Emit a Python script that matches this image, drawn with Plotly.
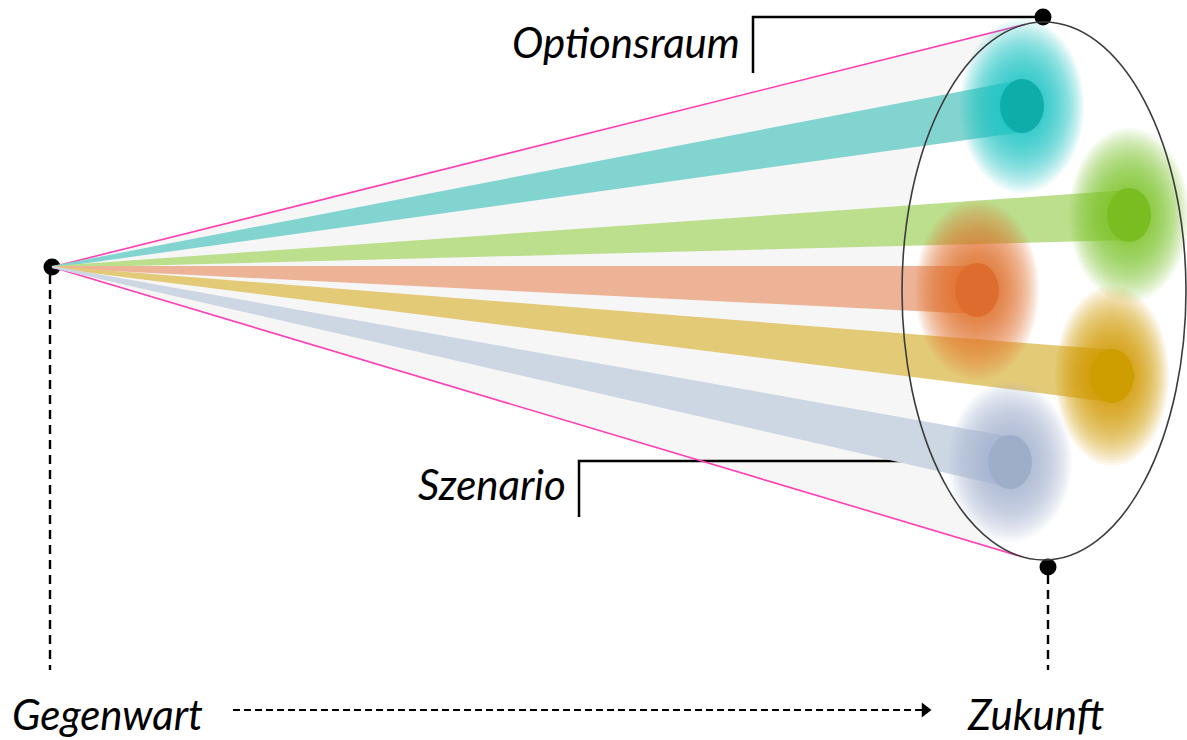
import numpy as np
import plotly.graph_objects as go

W, H = 1187, 740

# ---- geometry / data ----
origin = [52, 267]
ellipse_center = [1044, 291]
ellipse_radii = [142, 269]
top_dot = [1043, 17]
bottom_dot = [1048, 567]

scenario_names = ["Teal", "Grün", "Orange", "Gold", "Blau"]
end_x = [1022, 1129, 977, 1112, 1010]
end_y = [106, 215, 290, 376, 462]
beam_width = [52, 50, 48, 52, 50]
core_colors = ["#0fada9", "#79bd21", "#df6c2f", "#ce9d00", "#9eaec9"]
glow_colors = ["#1cc0c4", "#7cc424", "#e8702e", "#d4a200", "#a3b6d6"]
beam_colors = ["#82d4d0", "#bcdf8e", "#edb396", "#e3ca77", "#cdd7e3"]
glow_rx = [62, 60, 62, 57, 62]
glow_ry = [87, 87, 90, 90, 80]
core_rx = [22, 22, 22, 22, 22]
core_ry = [27, 27, 27, 27, 27]

label_option = "Optionsraum"
label_scenario = "Szenario"
label_now = "Gegenwart"
label_future = "Zukunft"

FONT = "Lato"
FS = 42


def hex_rgba(h, a):
    h = h.lstrip("#")
    r, g, b = int(h[0:2], 16), int(h[2:4], 16), int(h[4:6], 16)
    return f"rgba({r},{g},{b},{a})"


fig = go.Figure()
shapes = []

# ---- cone fill (origin to ellipse left arc) ----
cx, cy = ellipse_center
rx, ry = ellipse_radii
t = np.linspace(0, 2 * np.pi, 4000, endpoint=False)
ex = cx + rx * np.cos(t)
ey = cy + ry * np.sin(t)
nx = np.cos(t) / rx
ny = np.sin(t) / ry
val = (ex - origin[0]) * nx + (ey - origin[1]) * ny
sign_change = np.where(np.sign(val) != np.sign(np.roll(val, -1)))[0]
tang = sorted([(ey[i], ex[i], t[i]) for i in sign_change])
t_top = tang[0][2]
t_bot = tang[-1][2]
if t_bot > t_top:
    arc_t = np.linspace(t_top, t_bot, 200)
    if np.cos((t_top + t_bot) / 2) > 0:
        arc_t = np.linspace(t_top, t_bot - 2 * np.pi, 200)
else:
    arc_t = np.linspace(t_top, t_bot, 200)
    if np.cos((t_top + t_bot) / 2) > 0:
        arc_t = np.linspace(t_top, t_bot + 2 * np.pi, 200)
arc_x = cx + rx * np.cos(arc_t)
arc_y = cy + ry * np.sin(arc_t)
path = f"M {origin[0]},{origin[1]} " + " ".join(
    f"L {x:.1f},{y:.1f}" for x, y in zip(arc_x, arc_y)) + " Z"
shapes.append(dict(type="path", path=path, xref="x", yref="y",
                   fillcolor="rgba(0,0,0,0.035)", line=dict(width=0), layer="below"))

# pink boundary lines
for x2, y2 in [(arc_x[0], arc_y[0]), (arc_x[-1], arc_y[-1])]:
    shapes.append(dict(type="line", x0=origin[0], y0=origin[1], x1=x2, y1=y2,
                       xref="x", yref="y", line=dict(color="#ff3fb4", width=1.6)))

# ---- beams ----
for i in range(len(scenario_names)):
    dx = end_x[i] - origin[0]
    dy = end_y[i] - origin[1]
    L = np.hypot(dx, dy)
    px, py = -dy / L, dx / L
    w0, w1 = 2.0, beam_width[i] / 2
    pts = [(origin[0] + px * w0 / 2, origin[1] + py * w0 / 2),
           (end_x[i] + px * w1, end_y[i] + py * w1),
           (end_x[i] - px * w1, end_y[i] - py * w1),
           (origin[0] - px * w0 / 2, origin[1] - py * w0 / 2)]
    p = "M " + " L ".join(f"{a:.1f},{b:.1f}" for a, b in pts) + " Z"
    shapes.append(dict(type="path", path=p, xref="x", yref="y",
                       fillcolor=beam_colors[i], line=dict(width=0)))

# ---- glows (soft radial gradient from stacked ellipses) ----
n_layers = 24
for i in range(len(scenario_names)):
    for k in range(n_layers):
        f = (1 - k / n_layers) ** 1.1
        grx = core_rx[i] + (glow_rx[i] - core_rx[i]) * f
        gry = core_ry[i] + (glow_ry[i] - core_ry[i]) * f
        shapes.append(dict(type="circle", xref="x", yref="y",
                           x0=end_x[i] - grx, x1=end_x[i] + grx,
                           y0=end_y[i] - gry, y1=end_y[i] + gry,
                           fillcolor=hex_rgba(glow_colors[i], 0.07),
                           line=dict(width=0)))
    shapes.append(dict(type="circle", xref="x", yref="y",
                       x0=end_x[i] - core_rx[i], x1=end_x[i] + core_rx[i],
                       y0=end_y[i] - core_ry[i], y1=end_y[i] + core_ry[i],
                       fillcolor=core_colors[i], line=dict(width=0)))

# ellipse outline
shapes.append(dict(type="circle", xref="x", yref="y",
                   x0=cx - rx, x1=cx + rx, y0=cy - ry, y1=cy + ry,
                   fillcolor="rgba(0,0,0,0)", line=dict(color="#3c3c3c", width=1.6)))

# ---- callout lines ----
opt_corner = [753, 17]
opt_bottom = 73
sz_dot = [988, 461]
sz_corner = [579, 461]
sz_bottom = 517
fig.add_trace(go.Scatter(x=[top_dot[0], opt_corner[0], opt_corner[0]],
                         y=[top_dot[1], opt_corner[1], opt_bottom],
                         mode="lines", line=dict(color="black", width=2.5),
                         hoverinfo="skip", showlegend=False))
fig.add_trace(go.Scatter(x=[sz_dot[0], sz_corner[0], sz_corner[0]],
                         y=[sz_dot[1], sz_corner[1], sz_bottom],
                         mode="lines", line=dict(color="black", width=2.5),
                         hoverinfo="skip", showlegend=False))

# vertical dashed lines
base_y = 670
fig.add_trace(go.Scatter(x=[50, 50], y=[origin[1] + 8, base_y], mode="lines",
                         line=dict(color="black", width=2.4, dash="9px,6px"),
                         hoverinfo="skip", showlegend=False))
fig.add_trace(go.Scatter(x=[bottom_dot[0], bottom_dot[0]], y=[bottom_dot[1] + 8, base_y],
                         mode="lines", line=dict(color="black", width=2.4, dash="9px,6px"),
                         hoverinfo="skip", showlegend=False))

# time arrow
arrow_y = 710
arrow_x0, arrow_x1 = 233, 924
fig.add_trace(go.Scatter(x=[arrow_x0, arrow_x1], y=[arrow_y, arrow_y], mode="lines",
                         line=dict(color="black", width=2.2, dash="7px,4px"),
                         hoverinfo="skip", showlegend=False))
fig.add_trace(go.Scatter(x=[arrow_x1 + 1], y=[arrow_y], mode="markers",
                         marker=dict(symbol="triangle-right", size=13, color="black"),
                         hoverinfo="skip", showlegend=False))

# dots
fig.add_trace(go.Scatter(x=[origin[0], top_dot[0], bottom_dot[0], sz_dot[0]],
                         y=[origin[1], top_dot[1], bottom_dot[1], sz_dot[1]],
                         mode="markers", marker=dict(size=17, color="black"),
                         hoverinfo="skip", showlegend=False))

# ---- labels ----
ann = []
tfont = dict(family=FONT, size=FS, color="black")
ann.append(dict(x=742, y=42, text=f"<i>{label_option}</i>", xref="x", yref="y",
                xanchor="right", yanchor="middle", showarrow=False, font=tfont))
ann.append(dict(x=568, y=484, text=f"<i>{label_scenario}</i>", xref="x", yref="y",
                xanchor="right", yanchor="middle", showarrow=False, font=tfont))
ann.append(dict(x=10, y=714, text=f"<i>{label_now}</i>", xref="x", yref="y",
                xanchor="left", yanchor="middle", showarrow=False, font=tfont))
ann.append(dict(x=965, y=714, text=f"<i>{label_future}</i>", xref="x", yref="y",
                xanchor="left", yanchor="middle", showarrow=False, font=tfont))

fig.update_layout(
    width=W, height=H, autosize=False,
    margin=dict(l=0, r=0, t=0, b=0),
    paper_bgcolor="white", plot_bgcolor="white",
    xaxis=dict(range=[0, W], visible=False, fixedrange=True),
    yaxis=dict(range=[H, 0], visible=False, fixedrange=True),
    shapes=shapes, annotations=ann, hovermode=False,
)

fig.write_html("out.html", config={"displayModeBar": False, "staticPlot": True},
               post_script="document.body.style.margin='0';document.body.style.overflow='hidden';")
